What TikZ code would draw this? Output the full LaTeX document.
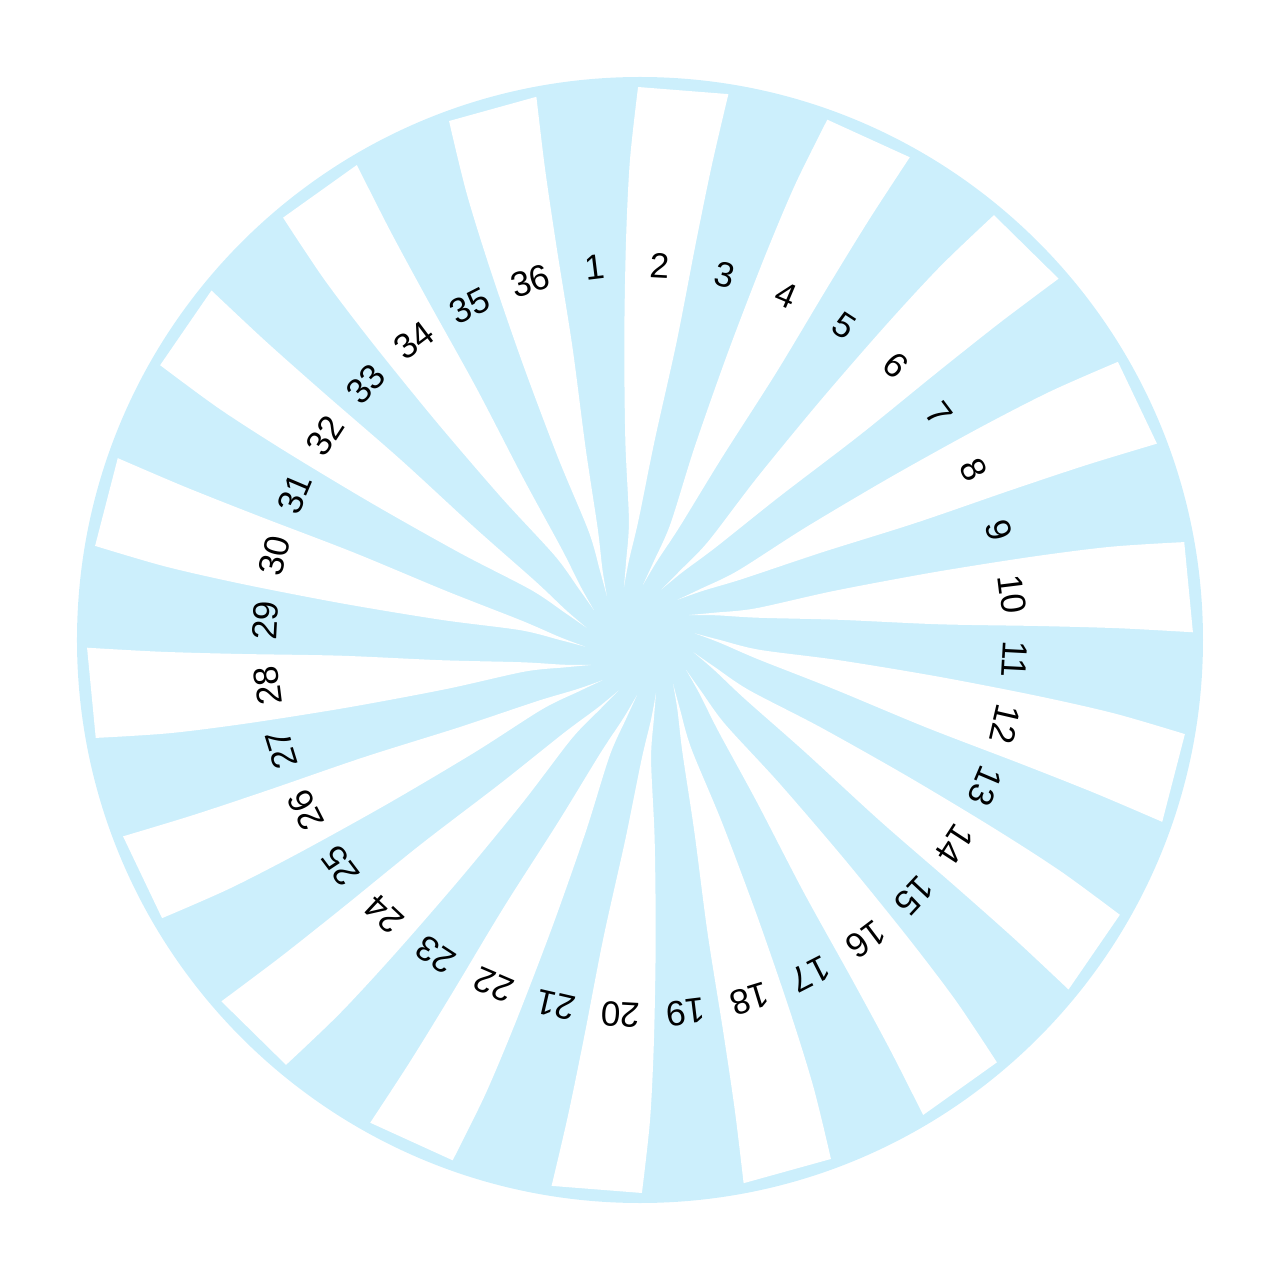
\documentclass[tikz,border=0pt]{standalone}
\usepackage{fontspec}
\setmainfont{Liberation Sans}
\definecolor{wheelblue}{RGB}{204,239,252}

\begin{document}
\begin{tikzpicture}[
    x=0.1mm, y=0.1mm,
    stripe/.style={fill=white},
    num/.style={font=\fontsize{10}{12}\selectfont, inner sep=0pt},
  ]
  \useasboundingbox (-640,-640) rectangle (640,640);
  % blue disc
  \fill[wheelblue] (0,0) circle (563);
  % white curved wedges
  \foreach \j in {0,...,17}{
    \pgfmathsetmacro{\a}{87-20*\j}
    \fill[stripe] plot[smooth] coordinates {({\a+20}:55) ({\a+13}:80) ({\a+8.3}:120) ({\a+7.2}:200)
        ({\a+6}:300) ({\a+5}:400) ({\a+4.2}:480) ({\a+3.2}:553)}
      -- plot[smooth] coordinates {({\a-6.2}:553) ({\a-5.6}:480) ({\a-5}:400) ({\a-4}:300)
        ({\a-1.2}:200) ({\a+3.7}:120) ({\a+11}:80) ({\a+20}:55)} -- cycle;
  }
  % numbers
  \foreach \k in {1,...,36}{
    \pgfmathsetmacro{\b}{97-10*(\k-1)}
    \node[num, rotate=\b-90] (n\k) at (\b:375) {\k};
  }
\end{tikzpicture}
\end{document}
